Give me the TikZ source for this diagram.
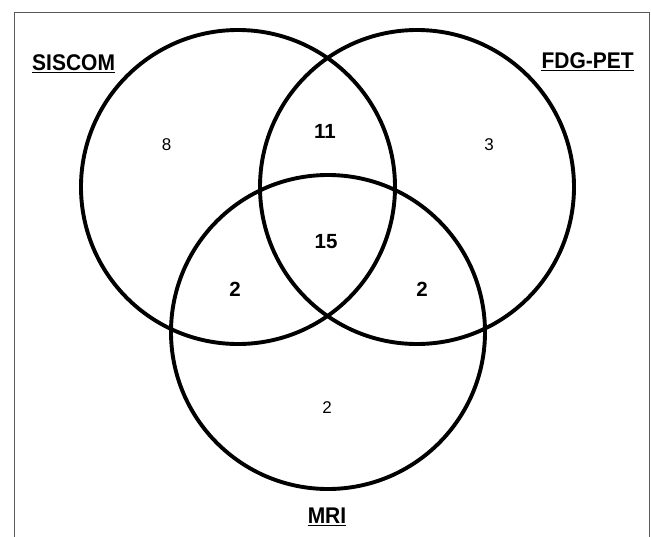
\documentclass[tikz,border=0pt]{standalone}
\usepackage{fontspec}
\setmainfont{Liberation Sans}
\newcommand{\tallword}[1]{\scalebox{1}[1.08]{#1}}
\begin{document}
\begin{tikzpicture}[x=1pt,y=-1pt,
  ring/.style={line width=3.9pt},
  title/.style={font=\fontsize{21}{24}\selectfont\bfseries, inner sep=0pt},
  big/.style={font=\fontsize{20.5}{24}\selectfont\bfseries, inner sep=0pt},
  small/.style={font=\fontsize{17}{20}\selectfont, inner sep=0pt},
  uline/.style={line width=1.6pt}]
\useasboundingbox (0,0) rectangle (651,536);
% outer frame
\draw[gray!70!black, line width=1pt] (14,560) -- (14,12) -- (649,12) -- (649,560);
% set centres
\coordinate (cS) at (238,187);
\coordinate (cF) at (417,187);
\coordinate (cM) at (328,332);
\draw[ring] (cS) circle[radius=157];
\draw[ring] (cF) circle[radius=157];
\draw[ring] (cM) circle[radius=157];
% set titles
\node[title, anchor=base west] (siscom) at (32,70) {\tallword{SISCOM}};
\node[title, anchor=base east] (fdg) at (634,68) {\tallword{FDG-PET}};
\node[title, anchor=base] (mri) at (327,523) {\tallword{MRI}};
\foreach \n in {siscom,fdg,mri}
  \draw[uline] ([yshift=-2.5pt]\n.base west) -- ([yshift=-2.5pt]\n.base east);
% region counts
\node[small] (nS) at (166.5,145) {8};
\node[small] (nF) at (489,145) {3};
\node[small] (nM) at (327,408) {2};
\node[big] (nSF) at (325,131) {11};
\node[big] (nAll) at (326,242) {15};
\node[big] (nSM) at (235,289) {2};
\node[big] (nFM) at (422,289) {2};
\end{tikzpicture}
\end{document}
